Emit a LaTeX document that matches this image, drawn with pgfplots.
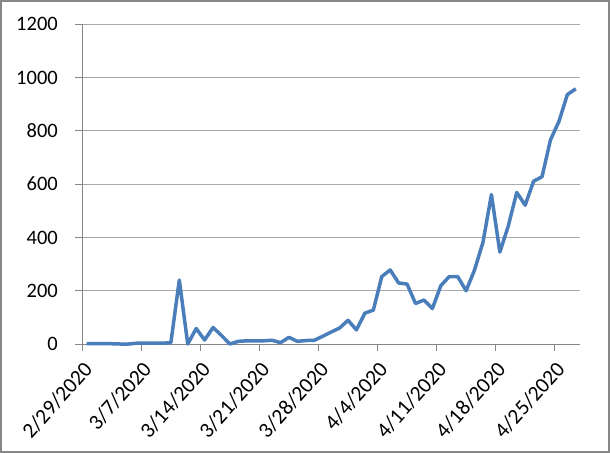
\documentclass[border=0pt]{standalone}
\usepackage{pgfplots}
\pgfplotsset{compat=1.18}
\usepackage{pgfplotstable}
\usepackage{fontspec}
\setmainfont{Carlito}
\definecolor{excelblue}{HTML}{4A7EBB}
\definecolor{axgray}{HTML}{868686}
\pgfplotstableread{
x y
0.5 1
1.5 1
2.5 1
3.5 1
4.5 0
5.5 0
6.5 3
7.5 3
8.5 3
9.5 3
10.5 5
11.5 240
12.5 0
13.5 58
14.5 15
15.5 62
16.5 32
17.5 0
18.5 10
19.5 12
20.5 12
21.5 12
22.5 14
23.5 5
24.5 25
25.5 10
26.5 13
27.5 14
28.5 29
29.5 45
30.5 60
31.5 89
32.5 53
33.5 116
34.5 127
35.5 253
36.5 278
37.5 229
38.5 225
39.5 152
40.5 165
41.5 133
42.5 219
43.5 253
44.5 253
45.5 200
46.5 278
47.5 382
48.5 561
49.5 345
50.5 443
51.5 569
52.5 521
53.5 611
54.5 628
55.5 766
56.5 835
57.5 936
58.5 958
}\datatable
\begin{document}
\begin{tikzpicture}
\begin{axis}[
  at={(0,0)}, anchor=south west,
  scale only axis, width=497.7bp, height=319.7bp,
  xmin=0, xmax=59, ymin=0, ymax=1200,
  axis lines=left, axis line style={-, axgray, line width=0.9bp},
  xtick={0,7,...,56},
  xticklabels={2/29/2020,3/7/2020,3/14/2020,3/21/2020,3/28/2020,4/4/2020,4/11/2020,4/18/2020,4/25/2020},
  ytick={0,200,...,1200},
  tick align=outside, major tick length=7bp,
  tick style={axgray, line width=0.9bp},
  ymajorgrids, grid style={axgray!70, line width=0.9bp},
  tick label style={font=\fontsize{20.5bp}{24bp}\selectfont, text=black},
  /pgf/number format/assume math mode=true,
  /pgf/number format/set thousands separator={},
  scaled y ticks=false,
  yticklabel style={xshift=-14bp},
  xticklabel style={font=\fontsize{21.5bp}{25bp}\selectfont, xshift=0bp, yshift=-9bp, rotate=48, anchor=north east, inner sep=0pt},
  clip=false,
]
\addplot[excelblue, line width=3.5bp, line join=round] table[x=x, y=y] {\datatable};
\end{axis}
\draw[axgray, line width=2.5bp] (-81.05bp,-107.75bp) rectangle (526.45bp,342.75bp);
\end{tikzpicture}
\end{document}
